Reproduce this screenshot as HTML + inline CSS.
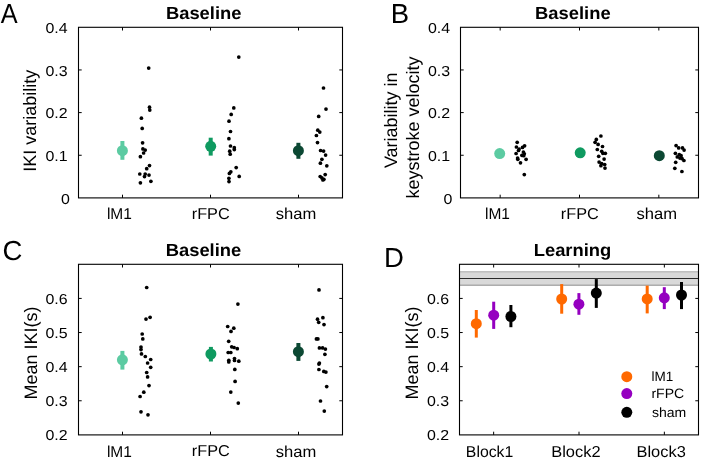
<!DOCTYPE html>
<html><head><meta charset="utf-8"><style>
html,body{margin:0;padding:0;background:#fff;width:709px;height:460px;overflow:hidden}
svg{display:block;font-family:"Liberation Sans", sans-serif;will-change:transform;text-rendering:geometricPrecision}
</style></head><body>
<svg width="709" height="460" viewBox="0 0 709 460">
<rect x="78.5" y="27.3" width="264.0" height="170.6" fill="none" stroke="#000" stroke-width="1.1"/>
<line x1="78.5" y1="155.25" x2="81.7" y2="155.25" stroke="#000" stroke-width="1"/>
<line x1="342.5" y1="155.25" x2="339.3" y2="155.25" stroke="#000" stroke-width="1"/>
<line x1="78.5" y1="112.60000000000002" x2="81.7" y2="112.60000000000002" stroke="#000" stroke-width="1"/>
<line x1="342.5" y1="112.60000000000002" x2="339.3" y2="112.60000000000002" stroke="#000" stroke-width="1"/>
<line x1="78.5" y1="69.95000000000002" x2="81.7" y2="69.95000000000002" stroke="#000" stroke-width="1"/>
<line x1="342.5" y1="69.95000000000002" x2="339.3" y2="69.95000000000002" stroke="#000" stroke-width="1"/>
<line x1="122.5" y1="197.9" x2="122.5" y2="194.70000000000002" stroke="#000" stroke-width="1"/>
<line x1="122.5" y1="27.3" x2="122.5" y2="30.5" stroke="#000" stroke-width="1"/>
<line x1="210.5" y1="197.9" x2="210.5" y2="194.70000000000002" stroke="#000" stroke-width="1"/>
<line x1="210.5" y1="27.3" x2="210.5" y2="30.5" stroke="#000" stroke-width="1"/>
<line x1="298.5" y1="197.9" x2="298.5" y2="194.70000000000002" stroke="#000" stroke-width="1"/>
<line x1="298.5" y1="27.3" x2="298.5" y2="30.5" stroke="#000" stroke-width="1"/>
<rect x="120.4" y="141" width="4" height="18.80000000000001" fill="#5ccba2"/>
<circle cx="122.4" cy="150.65" r="5.5" fill="#5ccba2"/>
<rect x="208.7" y="137.7" width="4" height="17.900000000000006" fill="#0f9a60"/>
<circle cx="210.7" cy="146.3" r="5.5" fill="#0f9a60"/>
<rect x="296.4" y="142.8" width="4" height="16.0" fill="#0c4833"/>
<circle cx="298.4" cy="150.65" r="5.5" fill="#0c4833"/>
<circle cx="148.7" cy="68.1" r="1.85" fill="#000"/>
<circle cx="149.5" cy="107.2" r="1.85" fill="#000"/>
<circle cx="149.8" cy="110.1" r="1.85" fill="#000"/>
<circle cx="141.4" cy="118.2" r="1.85" fill="#000"/>
<circle cx="142.2" cy="128.4" r="1.85" fill="#000"/>
<circle cx="142.6" cy="142.8" r="1.85" fill="#000"/>
<circle cx="142.9" cy="148.9" r="1.85" fill="#000"/>
<circle cx="145.2" cy="150.1" r="1.85" fill="#000"/>
<circle cx="143.6" cy="153.0" r="1.85" fill="#000"/>
<circle cx="140.4" cy="156.7" r="1.85" fill="#000"/>
<circle cx="149.5" cy="165.6" r="1.85" fill="#000"/>
<circle cx="146.7" cy="168.7" r="1.85" fill="#000"/>
<circle cx="139.8" cy="174.0" r="1.85" fill="#000"/>
<circle cx="145.2" cy="174.0" r="1.85" fill="#000"/>
<circle cx="144.5" cy="176.6" r="1.85" fill="#000"/>
<circle cx="149.0" cy="175.1" r="1.85" fill="#000"/>
<circle cx="140.4" cy="182.8" r="1.85" fill="#000"/>
<circle cx="150.9" cy="181.3" r="1.85" fill="#000"/>
<circle cx="238.8" cy="57.1" r="1.85" fill="#000"/>
<circle cx="233.8" cy="107.9" r="1.85" fill="#000"/>
<circle cx="231.2" cy="114.4" r="1.85" fill="#000"/>
<circle cx="229.0" cy="121.2" r="1.85" fill="#000"/>
<circle cx="230.5" cy="131.5" r="1.85" fill="#000"/>
<circle cx="228.9" cy="138.7" r="1.85" fill="#000"/>
<circle cx="230.5" cy="146.0" r="1.85" fill="#000"/>
<circle cx="234.3" cy="147.7" r="1.85" fill="#000"/>
<circle cx="234.3" cy="149.6" r="1.85" fill="#000"/>
<circle cx="229.7" cy="151.2" r="1.85" fill="#000"/>
<circle cx="230.2" cy="154.2" r="1.85" fill="#000"/>
<circle cx="236.2" cy="167.6" r="1.85" fill="#000"/>
<circle cx="230.8" cy="171.8" r="1.85" fill="#000"/>
<circle cx="229.4" cy="173.4" r="1.85" fill="#000"/>
<circle cx="239.2" cy="176.4" r="1.85" fill="#000"/>
<circle cx="228.9" cy="178.3" r="1.85" fill="#000"/>
<circle cx="229.0" cy="181.6" r="1.85" fill="#000"/>
<circle cx="323.5" cy="88.0" r="1.85" fill="#000"/>
<circle cx="326.0" cy="109.1" r="1.85" fill="#000"/>
<circle cx="318.7" cy="116.4" r="1.85" fill="#000"/>
<circle cx="317.8" cy="130.2" r="1.85" fill="#000"/>
<circle cx="319.8" cy="132.1" r="1.85" fill="#000"/>
<circle cx="316.4" cy="135.5" r="1.85" fill="#000"/>
<circle cx="317.5" cy="142.6" r="1.85" fill="#000"/>
<circle cx="320.6" cy="150.5" r="1.85" fill="#000"/>
<circle cx="323.6" cy="151.1" r="1.85" fill="#000"/>
<circle cx="325.6" cy="155.1" r="1.85" fill="#000"/>
<circle cx="321.9" cy="159.3" r="1.85" fill="#000"/>
<circle cx="320.4" cy="163.2" r="1.85" fill="#000"/>
<circle cx="326.8" cy="165.8" r="1.85" fill="#000"/>
<circle cx="325.2" cy="174.6" r="1.85" fill="#000"/>
<circle cx="320.2" cy="176.5" r="1.85" fill="#000"/>
<circle cx="321.9" cy="177.9" r="1.85" fill="#000"/>
<circle cx="323.9" cy="179.3" r="1.85" fill="#000"/>
<circle cx="322.9" cy="179.9" r="1.85" fill="#000"/>
<rect x="460.5" y="27.3" width="238.0" height="170.6" fill="none" stroke="#000" stroke-width="1.1"/>
<line x1="460.5" y1="155.25" x2="463.7" y2="155.25" stroke="#000" stroke-width="1"/>
<line x1="698.5" y1="155.25" x2="695.3" y2="155.25" stroke="#000" stroke-width="1"/>
<line x1="460.5" y1="112.60000000000002" x2="463.7" y2="112.60000000000002" stroke="#000" stroke-width="1"/>
<line x1="698.5" y1="112.60000000000002" x2="695.3" y2="112.60000000000002" stroke="#000" stroke-width="1"/>
<line x1="460.5" y1="69.95000000000002" x2="463.7" y2="69.95000000000002" stroke="#000" stroke-width="1"/>
<line x1="698.5" y1="69.95000000000002" x2="695.3" y2="69.95000000000002" stroke="#000" stroke-width="1"/>
<line x1="500.1666666666667" y1="197.9" x2="500.1666666666667" y2="194.70000000000002" stroke="#000" stroke-width="1"/>
<line x1="500.1666666666667" y1="27.3" x2="500.1666666666667" y2="30.5" stroke="#000" stroke-width="1"/>
<line x1="579.5" y1="197.9" x2="579.5" y2="194.70000000000002" stroke="#000" stroke-width="1"/>
<line x1="579.5" y1="27.3" x2="579.5" y2="30.5" stroke="#000" stroke-width="1"/>
<line x1="658.8333333333334" y1="197.9" x2="658.8333333333334" y2="194.70000000000002" stroke="#000" stroke-width="1"/>
<line x1="658.8333333333334" y1="27.3" x2="658.8333333333334" y2="30.5" stroke="#000" stroke-width="1"/>
<rect x="497.7" y="150" width="4" height="7" fill="#5ccba2"/>
<circle cx="499.7" cy="153.6" r="5.5" fill="#5ccba2"/>
<rect x="578.2" y="149.5" width="4" height="6.5" fill="#0f9a60"/>
<circle cx="580.2" cy="152.8" r="5.5" fill="#0f9a60"/>
<rect x="657.3" y="152.5" width="4" height="6.5" fill="#0c4833"/>
<circle cx="659.3" cy="155.7" r="5.5" fill="#0c4833"/>
<circle cx="517.2" cy="142.3" r="1.85" fill="#000"/>
<circle cx="516.4" cy="147.0" r="1.85" fill="#000"/>
<circle cx="524.6" cy="145.8" r="1.85" fill="#000"/>
<circle cx="522.5" cy="147.4" r="1.85" fill="#000"/>
<circle cx="519.1" cy="149.0" r="1.85" fill="#000"/>
<circle cx="518.5" cy="150.5" r="1.85" fill="#000"/>
<circle cx="523.4" cy="152.0" r="1.85" fill="#000"/>
<circle cx="524.3" cy="153.8" r="1.85" fill="#000"/>
<circle cx="516.1" cy="153.5" r="1.85" fill="#000"/>
<circle cx="521.9" cy="155.3" r="1.85" fill="#000"/>
<circle cx="523.7" cy="155.7" r="1.85" fill="#000"/>
<circle cx="517.6" cy="158.1" r="1.85" fill="#000"/>
<circle cx="517.8" cy="159.3" r="1.85" fill="#000"/>
<circle cx="526.1" cy="159.3" r="1.85" fill="#000"/>
<circle cx="520.5" cy="162.8" r="1.85" fill="#000"/>
<circle cx="524.3" cy="174.6" r="1.85" fill="#000"/>
<circle cx="600.9" cy="136.0" r="1.85" fill="#000"/>
<circle cx="596.3" cy="139.4" r="1.85" fill="#000"/>
<circle cx="595.1" cy="142.3" r="1.85" fill="#000"/>
<circle cx="598.1" cy="144.4" r="1.85" fill="#000"/>
<circle cx="602.5" cy="146.5" r="1.85" fill="#000"/>
<circle cx="597.3" cy="149.5" r="1.85" fill="#000"/>
<circle cx="601.7" cy="151.3" r="1.85" fill="#000"/>
<circle cx="605.3" cy="153.3" r="1.85" fill="#000"/>
<circle cx="602.9" cy="153.3" r="1.85" fill="#000"/>
<circle cx="598.7" cy="156.3" r="1.85" fill="#000"/>
<circle cx="604.1" cy="159.1" r="1.85" fill="#000"/>
<circle cx="599.1" cy="162.1" r="1.85" fill="#000"/>
<circle cx="601.7" cy="163.5" r="1.85" fill="#000"/>
<circle cx="600.9" cy="165.7" r="1.85" fill="#000"/>
<circle cx="604.7" cy="164.5" r="1.85" fill="#000"/>
<circle cx="605.0" cy="168.1" r="1.85" fill="#000"/>
<circle cx="676.1" cy="145.6" r="1.85" fill="#000"/>
<circle cx="678.7" cy="147.9" r="1.85" fill="#000"/>
<circle cx="682.5" cy="147.9" r="1.85" fill="#000"/>
<circle cx="684.1" cy="150.1" r="1.85" fill="#000"/>
<circle cx="675.4" cy="153.3" r="1.85" fill="#000"/>
<circle cx="679.3" cy="154.5" r="1.85" fill="#000"/>
<circle cx="681.1" cy="155.7" r="1.85" fill="#000"/>
<circle cx="677.3" cy="156.9" r="1.85" fill="#000"/>
<circle cx="679.9" cy="158.1" r="1.85" fill="#000"/>
<circle cx="682.1" cy="158.7" r="1.85" fill="#000"/>
<circle cx="683.9" cy="160.5" r="1.85" fill="#000"/>
<circle cx="675.7" cy="162.3" r="1.85" fill="#000"/>
<circle cx="674.8" cy="168.3" r="1.85" fill="#000"/>
<circle cx="681.9" cy="171.5" r="1.85" fill="#000"/>
<rect x="78.5" y="264.3" width="264.0" height="170.59999999999997" fill="none" stroke="#000" stroke-width="1.1"/>
<line x1="78.5" y1="400.78" x2="81.7" y2="400.78" stroke="#000" stroke-width="1"/>
<line x1="342.5" y1="400.78" x2="339.3" y2="400.78" stroke="#000" stroke-width="1"/>
<line x1="78.5" y1="366.65999999999997" x2="81.7" y2="366.65999999999997" stroke="#000" stroke-width="1"/>
<line x1="342.5" y1="366.65999999999997" x2="339.3" y2="366.65999999999997" stroke="#000" stroke-width="1"/>
<line x1="78.5" y1="332.54" x2="81.7" y2="332.54" stroke="#000" stroke-width="1"/>
<line x1="342.5" y1="332.54" x2="339.3" y2="332.54" stroke="#000" stroke-width="1"/>
<line x1="78.5" y1="298.42" x2="81.7" y2="298.42" stroke="#000" stroke-width="1"/>
<line x1="342.5" y1="298.42" x2="339.3" y2="298.42" stroke="#000" stroke-width="1"/>
<line x1="122.5" y1="434.9" x2="122.5" y2="431.7" stroke="#000" stroke-width="1"/>
<line x1="122.5" y1="264.3" x2="122.5" y2="267.5" stroke="#000" stroke-width="1"/>
<line x1="210.5" y1="434.9" x2="210.5" y2="431.7" stroke="#000" stroke-width="1"/>
<line x1="210.5" y1="264.3" x2="210.5" y2="267.5" stroke="#000" stroke-width="1"/>
<line x1="298.5" y1="434.9" x2="298.5" y2="431.7" stroke="#000" stroke-width="1"/>
<line x1="298.5" y1="264.3" x2="298.5" y2="267.5" stroke="#000" stroke-width="1"/>
<rect x="120.4" y="350.9" width="4" height="18.700000000000045" fill="#5ccba2"/>
<circle cx="122.4" cy="359.8" r="5.5" fill="#5ccba2"/>
<rect x="208.9" y="346.9" width="4" height="14.600000000000023" fill="#0f9a60"/>
<circle cx="210.9" cy="354.0" r="5.5" fill="#0f9a60"/>
<rect x="296.4" y="343" width="4" height="17.899999999999977" fill="#0c4833"/>
<circle cx="298.4" cy="351.7" r="5.5" fill="#0c4833"/>
<circle cx="146.7" cy="287.5" r="1.85" fill="#000"/>
<circle cx="150.1" cy="317.3" r="1.85" fill="#000"/>
<circle cx="146.0" cy="319.1" r="1.85" fill="#000"/>
<circle cx="142.2" cy="334.0" r="1.85" fill="#000"/>
<circle cx="142.8" cy="338.9" r="1.85" fill="#000"/>
<circle cx="141.0" cy="347.0" r="1.85" fill="#000"/>
<circle cx="141.0" cy="349.6" r="1.85" fill="#000"/>
<circle cx="141.5" cy="353.9" r="1.85" fill="#000"/>
<circle cx="145.3" cy="356.5" r="1.85" fill="#000"/>
<circle cx="150.7" cy="359.5" r="1.85" fill="#000"/>
<circle cx="147.6" cy="363.0" r="1.85" fill="#000"/>
<circle cx="150.7" cy="367.3" r="1.85" fill="#000"/>
<circle cx="146.7" cy="372.5" r="1.85" fill="#000"/>
<circle cx="147.6" cy="376.9" r="1.85" fill="#000"/>
<circle cx="149.0" cy="385.6" r="1.85" fill="#000"/>
<circle cx="143.8" cy="392.2" r="1.85" fill="#000"/>
<circle cx="140.1" cy="396.5" r="1.85" fill="#000"/>
<circle cx="141.0" cy="411.8" r="1.85" fill="#000"/>
<circle cx="148.0" cy="414.8" r="1.85" fill="#000"/>
<circle cx="237.9" cy="304.1" r="1.85" fill="#000"/>
<circle cx="227.7" cy="326.5" r="1.85" fill="#000"/>
<circle cx="233.8" cy="328.2" r="1.85" fill="#000"/>
<circle cx="231.0" cy="331.4" r="1.85" fill="#000"/>
<circle cx="228.7" cy="341.3" r="1.85" fill="#000"/>
<circle cx="231.7" cy="346.8" r="1.85" fill="#000"/>
<circle cx="234.1" cy="347.5" r="1.85" fill="#000"/>
<circle cx="237.3" cy="348.7" r="1.85" fill="#000"/>
<circle cx="228.2" cy="352.5" r="1.85" fill="#000"/>
<circle cx="230.8" cy="352.5" r="1.85" fill="#000"/>
<circle cx="228.8" cy="360.3" r="1.85" fill="#000"/>
<circle cx="228.8" cy="361.9" r="1.85" fill="#000"/>
<circle cx="234.5" cy="358.5" r="1.85" fill="#000"/>
<circle cx="234.5" cy="360.5" r="1.85" fill="#000"/>
<circle cx="238.8" cy="361.2" r="1.85" fill="#000"/>
<circle cx="234.8" cy="369.4" r="1.85" fill="#000"/>
<circle cx="235.1" cy="381.4" r="1.85" fill="#000"/>
<circle cx="230.8" cy="392.1" r="1.85" fill="#000"/>
<circle cx="238.3" cy="403.1" r="1.85" fill="#000"/>
<circle cx="319.0" cy="289.9" r="1.85" fill="#000"/>
<circle cx="322.9" cy="317.7" r="1.85" fill="#000"/>
<circle cx="317.5" cy="319.2" r="1.85" fill="#000"/>
<circle cx="318.7" cy="322.3" r="1.85" fill="#000"/>
<circle cx="324.0" cy="324.6" r="1.85" fill="#000"/>
<circle cx="316.4" cy="338.9" r="1.85" fill="#000"/>
<circle cx="317.9" cy="338.9" r="1.85" fill="#000"/>
<circle cx="319.4" cy="347.9" r="1.85" fill="#000"/>
<circle cx="322.6" cy="347.9" r="1.85" fill="#000"/>
<circle cx="325.4" cy="349.1" r="1.85" fill="#000"/>
<circle cx="324.9" cy="354.3" r="1.85" fill="#000"/>
<circle cx="319.4" cy="363.0" r="1.85" fill="#000"/>
<circle cx="318.9" cy="364.1" r="1.85" fill="#000"/>
<circle cx="318.9" cy="369.5" r="1.85" fill="#000"/>
<circle cx="323.8" cy="371.4" r="1.85" fill="#000"/>
<circle cx="325.9" cy="372.1" r="1.85" fill="#000"/>
<circle cx="326.7" cy="386.6" r="1.85" fill="#000"/>
<circle cx="320.5" cy="401.0" r="1.85" fill="#000"/>
<circle cx="324.3" cy="411.1" r="1.85" fill="#000"/>
<rect x="459.5" y="271.8" width="239.0" height="13.4" fill="#d9d9d9" stroke="none"/>
<line x1="459.5" y1="271.8" x2="698.5" y2="271.8" stroke="#a8a8a8" stroke-width="1"/>
<line x1="459.5" y1="285.2" x2="698.5" y2="285.2" stroke="#8c8c8c" stroke-width="1"/>
<line x1="459.5" y1="278.5" x2="698.5" y2="278.5" stroke="#2a2a2a" stroke-width="1.2"/>
<rect x="459.5" y="264.3" width="239.0" height="170.59999999999997" fill="none" stroke="#000" stroke-width="1.1"/>
<line x1="459.5" y1="400.78" x2="462.7" y2="400.78" stroke="#000" stroke-width="1"/>
<line x1="698.5" y1="400.78" x2="695.3" y2="400.78" stroke="#000" stroke-width="1"/>
<line x1="459.5" y1="366.65999999999997" x2="462.7" y2="366.65999999999997" stroke="#000" stroke-width="1"/>
<line x1="698.5" y1="366.65999999999997" x2="695.3" y2="366.65999999999997" stroke="#000" stroke-width="1"/>
<line x1="459.5" y1="332.54" x2="462.7" y2="332.54" stroke="#000" stroke-width="1"/>
<line x1="698.5" y1="332.54" x2="695.3" y2="332.54" stroke="#000" stroke-width="1"/>
<line x1="459.5" y1="298.42" x2="462.7" y2="298.42" stroke="#000" stroke-width="1"/>
<line x1="698.5" y1="298.42" x2="695.3" y2="298.42" stroke="#000" stroke-width="1"/>
<line x1="493.64285714285717" y1="434.9" x2="493.64285714285717" y2="431.7" stroke="#000" stroke-width="1"/>
<line x1="493.64285714285717" y1="264.3" x2="493.64285714285717" y2="267.5" stroke="#000" stroke-width="1"/>
<line x1="579.0" y1="434.9" x2="579.0" y2="431.7" stroke="#000" stroke-width="1"/>
<line x1="579.0" y1="264.3" x2="579.0" y2="267.5" stroke="#000" stroke-width="1"/>
<line x1="664.3571428571429" y1="434.9" x2="664.3571428571429" y2="431.7" stroke="#000" stroke-width="1"/>
<line x1="664.3571428571429" y1="264.3" x2="664.3571428571429" y2="267.5" stroke="#000" stroke-width="1"/>
<rect x="474.8" y="310" width="3" height="27.600000000000023" fill="#ff6900"/>
<circle cx="476.3" cy="323.7" r="5.5" fill="#ff6900"/>
<rect x="492.2" y="301.7" width="3" height="27.19999999999999" fill="#9500c0"/>
<circle cx="493.7" cy="315.2" r="5.5" fill="#9500c0"/>
<rect x="509.4" y="305" width="3" height="22.19999999999999" fill="#000000"/>
<circle cx="510.9" cy="316.5" r="5.5" fill="#000000"/>
<rect x="560.2" y="284.1" width="3" height="29.599999999999966" fill="#ff6900"/>
<circle cx="561.7" cy="299.0" r="5.5" fill="#ff6900"/>
<rect x="577.4" y="293.1" width="3" height="21.69999999999999" fill="#9500c0"/>
<circle cx="578.9" cy="304.2" r="5.5" fill="#9500c0"/>
<rect x="594.8" y="279.1" width="3" height="28.799999999999955" fill="#000000"/>
<circle cx="596.3" cy="293.1" r="5.5" fill="#000000"/>
<rect x="645.7" y="285.6" width="3" height="27.799999999999955" fill="#ff6900"/>
<circle cx="647.2" cy="298.9" r="5.5" fill="#ff6900"/>
<rect x="662.8" y="287.2" width="3" height="21.900000000000034" fill="#9500c0"/>
<circle cx="664.3" cy="297.8" r="5.5" fill="#9500c0"/>
<rect x="680.0" y="282" width="3" height="27.100000000000023" fill="#000000"/>
<circle cx="681.5" cy="295.0" r="5.5" fill="#000000"/>
<circle cx="626.8" cy="376.7" r="5.5" fill="#ff6900"/>
<circle cx="626.8" cy="393.6" r="5.5" fill="#9500c0"/>
<circle cx="626.8" cy="412.3" r="5.5" fill="#000000"/>
<text transform="translate(0.72,23.1) scale(0.92,1)" font-size="27.5" font-weight="normal" text-anchor="start">A</text>
<text transform="translate(390.85,23.1) scale(1,1)" font-size="27.5" font-weight="normal" text-anchor="start">B</text>
<text transform="translate(2.42,259.65) scale(1,1)" font-size="27.5" font-weight="normal" text-anchor="start">C</text>
<text transform="translate(384.08,266.5) scale(1,1)" font-size="27.5" font-weight="normal" text-anchor="start">D</text>
<text transform="translate(165.9,18.67) scale(1.05,1)" font-size="17.5" font-weight="bold" text-anchor="start">Baseline</text>
<text transform="translate(535.02,18.65) scale(1.05,1)" font-size="17.5" font-weight="bold" text-anchor="start">Baseline</text>
<text transform="translate(165.68,255.65) scale(1.05,1)" font-size="17.5" font-weight="bold" text-anchor="start">Baseline</text>
<text transform="translate(533.7,255.75) scale(1.05,1)" font-size="17.5" font-weight="bold" text-anchor="start">Learning</text>
<text transform="translate(36.3,120.72) rotate(-90) scale(1,1)" font-size="18" font-weight="normal" text-anchor="middle">IKI variability</text>
<text transform="translate(396.9,120.22) rotate(-90) scale(1,1)" font-size="18" font-weight="normal" text-anchor="middle">Variability in</text>
<text transform="translate(419.4,127.52) rotate(-90) scale(1,1)" font-size="18" font-weight="normal" text-anchor="middle">keystroke velocity</text>
<text transform="translate(36.9,352.92) rotate(-90) scale(1,1)" font-size="18" font-weight="normal" text-anchor="middle">Mean IKI(s)</text>
<text transform="translate(418.2,352.92) rotate(-90) scale(1,1)" font-size="18" font-weight="normal" text-anchor="middle">Mean IKI(s)</text>
<text transform="translate(106.92,219.35) scale(0.98,1)" font-size="15.8" font-weight="normal" text-anchor="start">lM1</text>
<text transform="translate(191.73,219.15) scale(1.03,1)" font-size="15.8" font-weight="normal" text-anchor="start">rFPC</text>
<text transform="translate(275.7,219.4) scale(1.05,1)" font-size="15.8" font-weight="normal" text-anchor="start">sham</text>
<text transform="translate(485.02,219.35) scale(0.98,1)" font-size="15.8" font-weight="normal" text-anchor="start">lM1</text>
<text transform="translate(560.83,219.1) scale(1.03,1)" font-size="15.8" font-weight="normal" text-anchor="start">rFPC</text>
<text transform="translate(636.5,219.35) scale(1.05,1)" font-size="15.8" font-weight="normal" text-anchor="start">sham</text>
<text transform="translate(106.92,456.55) scale(0.98,1)" font-size="15.8" font-weight="normal" text-anchor="start">lM1</text>
<text transform="translate(191.78,456.3) scale(1.03,1)" font-size="15.8" font-weight="normal" text-anchor="start">rFPC</text>
<text transform="translate(275.65,456.55) scale(1.05,1)" font-size="15.8" font-weight="normal" text-anchor="start">sham</text>
<text transform="translate(465.85,456.5) scale(1.0,1)" font-size="15.8" font-weight="normal" text-anchor="start">Block1</text>
<text transform="translate(551.22,456.5) scale(1.04,1)" font-size="15.8" font-weight="normal" text-anchor="start">Block2</text>
<text transform="translate(636.47,456.5) scale(1.04,1)" font-size="15.8" font-weight="normal" text-anchor="start">Block3</text>
<text transform="translate(651.4,381.02) scale(1,1)" font-size="13.5" font-weight="normal" text-anchor="start">lM1</text>
<text transform="translate(651.4,398.45) scale(1.04,1)" font-size="13.5" font-weight="normal" text-anchor="start">rFPC</text>
<text transform="translate(651.9,416.98) scale(1.04,1)" font-size="13.5" font-weight="normal" text-anchor="start">sham</text>
<text transform="translate(45.5,160.95) scale(1.1,1)" font-size="14.5">0.1</text>
<text transform="translate(428.0,160.95) scale(1.1,1)" font-size="14.5">0.1</text>
<text transform="translate(45.5,118.30000000000003) scale(1.1,1)" font-size="14.5">0.2</text>
<text transform="translate(428.0,118.30000000000003) scale(1.1,1)" font-size="14.5">0.2</text>
<text transform="translate(45.5,75.65000000000002) scale(1.1,1)" font-size="14.5">0.3</text>
<text transform="translate(428.0,75.65000000000002) scale(1.1,1)" font-size="14.5">0.3</text>
<text transform="translate(45.5,33.00000000000004) scale(1.1,1)" font-size="14.5">0.4</text>
<text transform="translate(428.0,33.00000000000004) scale(1.1,1)" font-size="14.5">0.4</text>
<text transform="translate(60.95,203.6) scale(1.1,1)" font-size="14.5">0</text>
<text transform="translate(443.55,203.6) scale(1.1,1)" font-size="14.5">0</text>
<text transform="translate(45.5,440.29999999999995) scale(1.1,1)" font-size="14.5">0.2</text>
<text transform="translate(426.9,440.29999999999995) scale(1.1,1)" font-size="14.5">0.2</text>
<text transform="translate(45.5,406.17999999999995) scale(1.1,1)" font-size="14.5">0.3</text>
<text transform="translate(426.9,406.17999999999995) scale(1.1,1)" font-size="14.5">0.3</text>
<text transform="translate(45.5,372.05999999999995) scale(1.1,1)" font-size="14.5">0.4</text>
<text transform="translate(426.9,372.05999999999995) scale(1.1,1)" font-size="14.5">0.4</text>
<text transform="translate(45.5,337.94) scale(1.1,1)" font-size="14.5">0.5</text>
<text transform="translate(426.9,337.94) scale(1.1,1)" font-size="14.5">0.5</text>
<text transform="translate(45.5,303.82) scale(1.1,1)" font-size="14.5">0.6</text>
<text transform="translate(426.9,303.82) scale(1.1,1)" font-size="14.5">0.6</text>
</svg>
</body></html>
